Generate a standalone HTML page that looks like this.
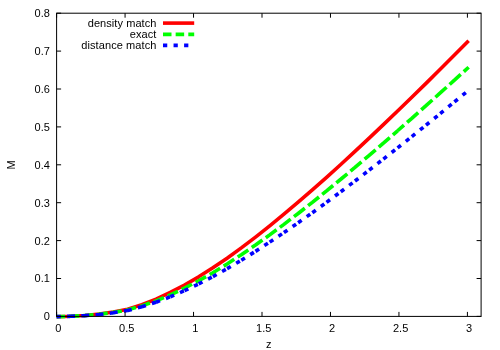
<!DOCTYPE html>
<html><head><meta charset="utf-8"><title>plot</title>
<style>
html,body{margin:0;padding:0;background:#fff;}
body{width:500px;height:350px;overflow:hidden;font-family:"Liberation Sans",sans-serif;}
svg{display:block;}
text{font-family:"Liberation Sans",sans-serif;font-size:11px;fill:#000;}
</style></head><body>
<svg style="will-change:transform" width="500" height="350" viewBox="0 0 500 350">
<rect width="500" height="350" fill="#fff"/>

<text x="49.9" y="320.35" text-anchor="end">0</text>
<text x="49.9" y="282.45" text-anchor="end">0.1</text>
<text x="49.9" y="244.55" text-anchor="end">0.2</text>
<text x="49.9" y="206.65" text-anchor="end">0.3</text>
<text x="49.9" y="168.75" text-anchor="end">0.4</text>
<text x="49.9" y="130.85" text-anchor="end">0.5</text>
<text x="49.9" y="92.95" text-anchor="end">0.6</text>
<text x="49.9" y="55.05" text-anchor="end">0.7</text>
<text x="49.9" y="17.15" text-anchor="end">0.8</text>
<text x="58.30" y="331.6" text-anchor="middle">0</text>
<text x="126.77" y="331.6" text-anchor="middle">0.5</text>
<text x="195.24" y="331.6" text-anchor="middle">1</text>
<text x="263.70" y="331.6" text-anchor="middle">1.5</text>
<text x="332.17" y="331.6" text-anchor="middle">2</text>
<text x="400.64" y="331.6" text-anchor="middle">2.5</text>
<text x="469.11" y="331.6" text-anchor="middle">3</text>
<text x="268.8" y="347.9" text-anchor="middle">z</text>
<text transform="translate(15.2,165) rotate(-90)" text-anchor="middle">M</text>
<text x="156.4" y="26.5" text-anchor="end" textLength="68.7" lengthAdjust="spacing">density match</text>
<text x="156.4" y="37.8" text-anchor="end" textLength="26.6" lengthAdjust="spacing">exact</text>
<text x="156.4" y="49.3" text-anchor="end" textLength="75.1" lengthAdjust="spacing">distance match</text>
<g fill="none" stroke-width="3.6" stroke-linejoin="round">
<path d="M163,23.1H194.2" stroke="#f00"/>
<path d="M163,34.4H194.2" stroke="#0f0" stroke-dasharray="8.5 4.15"/>
<path d="M163,45.4H194.2" stroke="#00f" stroke-dasharray="4.25 6.3"/>
<path d="M56.60,316.70 L70.81,316.29 L85.02,315.47 L99.22,314.01 L113.43,311.94 L127.64,309.15 L141.85,304.73 L156.06,299.09 L170.27,292.47 L184.47,285.07 L198.68,276.84 L212.89,267.85 L227.10,258.18 L241.31,247.90 L255.52,237.09 L269.72,225.82 L283.93,214.19 L298.14,202.23 L312.35,189.96 L326.56,177.38 L340.76,164.52 L354.97,151.43 L369.18,138.13 L383.39,124.65 L397.60,111.02 L411.81,97.26 L426.01,83.36 L440.22,69.29 L454.43,55.06 L468.64,40.73" stroke="#f00"/>
<path d="M56.60,316.67L70.81,316.30 M70.81,316.30L85.02,315.57 M85.02,315.57L99.22,314.25 M99.22,314.25L113.43,312.39 M113.43,312.39L127.64,309.87 M127.64,309.87L141.85,305.90 M141.85,305.90L156.06,300.82 M156.06,300.82L170.27,294.87 M170.27,294.87L184.47,288.21 M184.47,288.21L198.68,280.79 M198.68,280.79L212.89,272.70 M212.89,272.70L227.10,264.00 M227.10,264.00L241.31,254.75 M241.31,254.75L255.52,245.02 M255.52,245.02L269.72,234.87 M269.72,234.87L283.93,224.34 M283.93,224.34L298.14,213.48 M298.14,213.48L312.35,202.32 M312.35,202.32L326.56,190.90 M326.56,190.90L340.76,179.25 M340.76,179.25L354.97,167.38 M354.97,167.38L369.18,155.34 M369.18,155.34L383.39,143.12 M383.39,143.12L397.60,130.77 M397.60,130.77L411.81,118.28 M411.81,118.28L426.01,105.67 M426.01,105.67L440.22,92.95 M440.22,92.95L454.43,80.14 M454.43,80.14L468.64,67.24" stroke="#0f0" stroke-dasharray="8.5 4.15"/>
<path d="M56.60,316.65L70.81,316.31 M70.81,316.31L85.02,315.64 M85.02,315.64L99.22,314.44 M99.22,314.44L113.43,312.75 M113.43,312.75L127.64,310.45 M127.64,310.45L141.85,306.83 M141.85,306.83L156.06,302.21 M156.06,302.21L170.27,296.78 M170.27,296.78L184.47,290.71 M184.47,290.71L198.68,283.96 M198.68,283.96L212.89,276.59 M212.89,276.59L227.10,268.66 M227.10,268.66L241.31,260.23 M241.31,260.23L255.52,251.37 M255.52,251.37L269.72,242.12 M269.72,242.12L283.93,232.58 M283.93,232.58L298.14,222.75 M298.14,222.75L312.35,212.67 M312.35,212.67L326.56,202.35 M326.56,202.35L340.76,191.79 M340.76,191.79L354.97,181.05 M354.97,181.05L369.18,170.13 M369.18,170.13L383.39,159.06 M383.39,159.06L397.60,147.87 M397.60,147.87L411.81,136.58 M411.81,136.58L426.01,125.16 M426.01,125.16L440.22,113.62 M440.22,113.62L454.43,101.95 M454.43,101.95L468.64,90.19" stroke="#00f" stroke-dasharray="4.25 6.3"/>
</g>
<g stroke="#000" stroke-width="1" fill="none">
<rect x="56.6" y="13.2" width="424.5" height="303.2"/>
<path d="M56.6,316.40h4.5 M481.1,316.40h-4.5"/>
<path d="M56.6,278.50h4.5 M481.1,278.50h-4.5"/>
<path d="M56.6,240.60h4.5 M481.1,240.60h-4.5"/>
<path d="M56.6,202.70h4.5 M481.1,202.70h-4.5"/>
<path d="M56.6,164.80h4.5 M481.1,164.80h-4.5"/>
<path d="M56.6,126.90h4.5 M481.1,126.90h-4.5"/>
<path d="M56.6,89.00h4.5 M481.1,89.00h-4.5"/>
<path d="M56.6,51.10h4.5 M481.1,51.10h-4.5"/>
<path d="M56.6,13.20h4.5 M481.1,13.20h-4.5"/>
<path d="M56.60,316.4v-4.5 M56.60,13.2v4.5"/>
<path d="M125.07,316.4v-4.5 M125.07,13.2v4.5"/>
<path d="M193.54,316.4v-4.5 M193.54,13.2v4.5"/>
<path d="M262.00,316.4v-4.5 M262.00,13.2v4.5"/>
<path d="M330.47,316.4v-4.5 M330.47,13.2v4.5"/>
<path d="M398.94,316.4v-4.5 M398.94,13.2v4.5"/>
<path d="M467.41,316.4v-4.5 M467.41,13.2v4.5"/>
</g>
</svg></body></html>
